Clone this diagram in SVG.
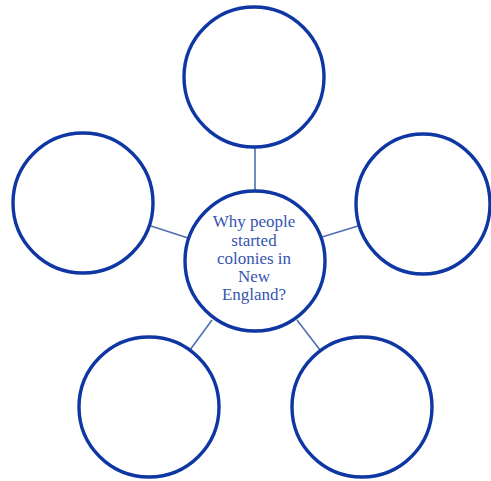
<svg xmlns="http://www.w3.org/2000/svg" width="491" height="481" viewBox="0 0 491 481">
<style>
.c{fill:#fff;stroke:#0f37a3;stroke-width:3.4}
.l{stroke:#4f6fae;stroke-width:1.6;fill:none}
.t{font-family:"Liberation Serif",serif;font-size:17px;fill:#3655b0;text-anchor:middle}
</style>
<rect width="491" height="481" fill="#fff"/>
<g id="connectors">
<line class="l" x1="255" y1="147" x2="255" y2="191"/>
<line class="l" x1="151" y1="226" x2="188" y2="238"/>
<line class="l" x1="322" y1="237" x2="358" y2="226"/>
<line class="l" x1="212" y1="320" x2="190" y2="350"/>
<line class="l" x1="297" y1="320" x2="320" y2="350"/>
</g>
<g id="top"><circle class="c" cx="254" cy="77" r="70"/></g>
<g id="left"><circle class="c" cx="83" cy="203" r="70"/></g>
<g id="right"><ellipse class="c" cx="423" cy="204" rx="67" ry="70"/></g>
<g id="bottom-left"><circle class="c" cx="149" cy="407" r="70"/></g>
<g id="bottom-right"><circle class="c" cx="362" cy="407" r="70"/></g>
<g id="center">
<circle class="c" cx="255" cy="261" r="70"/>
<text class="t" x="254" y="227">Why people</text>
<text class="t" x="254" y="246">started</text>
<text class="t" x="254" y="264">colonies in</text>
<text class="t" x="254" y="282">New</text>
<text class="t" x="254" y="300">England?</text>
</g>
</svg>
